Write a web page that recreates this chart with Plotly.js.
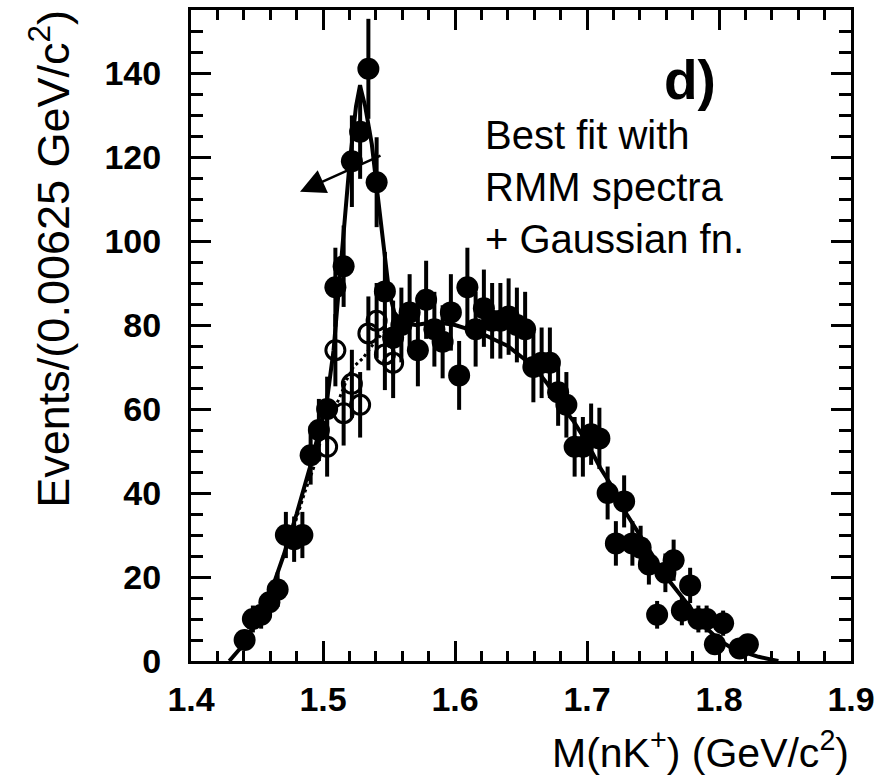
<!DOCTYPE html>
<html>
<head>
<meta charset="utf-8">
<script src="https://cdn.plot.ly/plotly-3.0.1.min.js"></script>
<style>html,body{margin:0;padding:0;background:#fff;}#chart{width:879px;height:783px;}</style>
</head>
<body>
<div id="chart"></div>
<script>
// Filled points: bin centres (GeV/c^2), counts, errors
const massFilled = [1.440625,1.446875,1.453125,1.459375,1.465625,1.471875,1.478125,1.484375,1.490625,1.496875,
  1.503125,1.509375,1.515625,1.521875,1.528125,1.534375,1.540625,1.546875,1.553125,1.559375,
  1.565625,1.571875,1.578125,1.584375,1.590625,1.596875,1.603125,1.609375,1.615625,1.621875,
  1.628125,1.634375,1.640625,1.646875,1.653125,1.659375,1.665625,1.671875,1.678125,1.684375,
  1.690625,1.696875,1.703125,1.709375,1.715625,1.721875,1.728125,1.734375,1.740625,1.746875,
  1.753125,1.759375,1.765625,1.771875,1.778125,1.784375,1.790625,1.796875,1.803125,1.815625,1.821875];
const countsFilled = [5,10,11,14,17,30,29,30,49,55,
  60,89,94,119,126,141,114,88,77,80,
  83,74,86,79,76,83,68,89,79,84,
  81,81,82,80,79,70,71,71,64,61,
  51,51,54,53,40,28,38,28,27,23,
  11,21,24,12,18,10,10,4,9,3,4];
const errFilled = [2.2,3.2,3.3,3.7,4.1,5.5,5.4,5.5,7.0,7.4,
  7.7,9.4,9.7,10.9,11.2,11.9,10.7,9.4,8.8,8.9,
  9.1,8.6,9.3,8.9,8.7,9.1,8.2,9.4,8.9,9.2,
  9.0,9.0,9.1,8.9,8.9,8.4,8.4,8.4,8.0,7.8,
  7.1,7.1,7.3,7.3,6.3,5.3,6.2,5.3,5.2,4.8,
  3.3,4.6,4.9,3.5,4.2,3.2,3.2,2.0,3.0,1.7,2.0];

// Open points (peak region)
const massOpen = [1.503125,1.509375,1.515625,1.521875,1.528125,1.534375,1.540625,1.546875,1.553125];
const countsOpen = [51,74,59,66,61,78,81,73,71];
const errOpen = [7.1,8.6,7.7,8.1,7.8,8.8,9.0,8.5,8.4];

// Best fit curve (RMM spectra + Gaussian)
const fitMass = [1.429,1.44,1.45,1.46,1.47,1.48,1.49,1.497,1.503,1.508,1.514,1.520,1.525,1.528,1.532,1.537,1.541,1.547,1.550,1.554,
  1.560,1.57,1.58,1.59,1.60,1.61,1.62,1.63,1.64,1.65,1.66,1.67,1.68,1.69,1.70,1.71,1.72,1.73,1.74,1.75,
  1.76,1.77,1.78,1.79,1.80,1.81,1.82,1.83,1.84,1.845];
const fitCounts = [0,4,10,16,25,35,46,55,62,74,96,118,132,137,132,123,112,96,88,83,
  80.5,80,80.5,80.5,80,79,78,76.5,75,72.5,70,66,61,57,52,46,41,35,30,25,
  20,16,12,8,5,3,2,1,0.3,0];

// Background-only (dotted) curve under the peak
const bgMass = [1.478,1.486,1.494,1.500,1.507,1.513,1.518,1.523,1.530,1.537,1.545,1.552];
const bgCounts = [32,40,47,55,59,63,67,70,72,75,78,79];

const xTicks = [1.4,1.5,1.6,1.7,1.8,1.9];
const xTickText = ['1.4','1.5','1.6','1.7','1.8','1.9'];
const yTicks = [0,20,40,60,80,100,120,140];
const yTickText = ['0','20','40','60','80','100','120','140'];

const FONT = 'Liberation Sans, Arial, Helvetica, sans-serif';

const traces = [
  {x: fitMass, y: fitCounts, mode: 'lines', line: {color: 'black', width: 4}, hoverinfo: 'skip'},
  {x: bgMass, y: bgCounts, mode: 'lines', line: {color: 'black', width: 3, dash: 'dot'}, hoverinfo: 'skip'},
  {x: massOpen, y: countsOpen, mode: 'markers',
   marker: {symbol: 'circle-open', size: 19, color: 'black', line: {width: 3, color: 'black'}},
   error_y: {type: 'data', array: errOpen, visible: true, thickness: 4, width: 0, color: 'black'}},
  {x: massFilled, y: countsFilled, mode: 'markers',
   marker: {symbol: 'circle', size: 22, color: 'black'},
   error_y: {type: 'data', array: errFilled, visible: true, thickness: 4, width: 0, color: 'black'}}
];

const axisCommon = {
  showline: true, linewidth: 3, linecolor: 'black', mirror: 'allticks',
  ticks: 'inside', ticklen: 20, tickwidth: 3, tickcolor: 'black',
  showgrid: false, zeroline: false,
  tickfont: {family: FONT, size: 34, color: 'black', weight: 'bold'}
};

const layout = {
  width: 879, height: 783,
  margin: {l: 191, r: 28, t: 10, b: 122},
  paper_bgcolor: 'white', plot_bgcolor: 'white',
  showlegend: false,
  font: {family: FONT, color: 'black'},
  xaxis: Object.assign({}, axisCommon, {
    range: [1.4, 1.9], tickmode: 'array', tickvals: xTicks, ticktext: xTickText,
    ticklabelstandoff: 6,
    minor: {dtick: 0.02, ticks: 'inside', ticklen: 10, tickwidth: 3, tickcolor: 'black', showgrid: false}
  }),
  yaxis: Object.assign({}, axisCommon, {
    range: [0, 155], tickmode: 'array', tickvals: yTicks, ticktext: yTickText,
    ticklabelstandoff: 20,
    minor: {dtick: 5, ticks: 'inside', ticklen: 12, tickwidth: 3, tickcolor: 'black', showgrid: false}
  }),
  annotations: [
    {xref: 'paper', yref: 'paper', x: -0.2136, y: 0.618, xanchor: 'center', yanchor: 'middle',
     textangle: -90, showarrow: false, text: 'Events/(0.00625 GeV/c<sup>2</sup>)',
     font: {family: FONT, size: 45, color: 'black'}},
    {xref: 'paper', yref: 'paper', x: 1.0, y: -0.136, xanchor: 'right', yanchor: 'middle',
     showarrow: false, text: 'M(nK<sup>+</sup>) (GeV/c<sup>2</sup>)',
     font: {family: FONT, size: 41, color: 'black'}},
    {xref: 'paper', yref: 'paper', x: 0.756, y: 0.8925, xanchor: 'center', yanchor: 'middle',
     showarrow: false, text: '<b>d)</b>', font: {family: FONT, size: 55, color: 'black'}},
    {xref: 'paper', yref: 'paper', x: 0.4424, y: 0.845, xanchor: 'left', yanchor: 'top', align: 'left',
     showarrow: false, text: 'Best fit with<br>RMM spectra<br>+ Gaussian fn.',
     font: {family: FONT, size: 40, color: 'black'}},
    {xref: 'x', yref: 'y', x: 1.4826, y: 111.7, axref: 'x', ayref: 'y', ax: 1.5447, ay: 120.5,
     text: '', showarrow: true, arrowhead: 2, arrowsize: 2, arrowwidth: 2.5, arrowcolor: 'black', standoff: 0}
  ]
};

Plotly.newPlot('chart', traces, layout, {staticPlot: true, displayModeBar: false});
</script>
</body>
</html>
